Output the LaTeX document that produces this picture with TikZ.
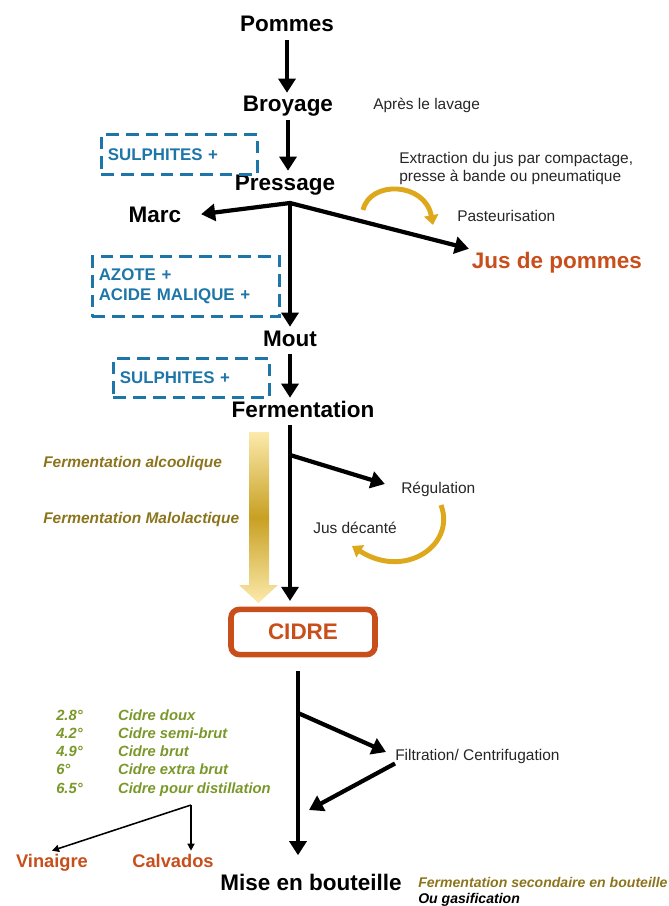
\documentclass[tikz,border=0pt]{standalone}
\usepackage{fontspec}
\setmainfont{Liberation Sans}
\usetikzlibrary{arrows.meta}

\definecolor{bleu}{RGB}{30,118,168}
\definecolor{rouille}{RGB}{200,78,28}
\definecolor{or}{RGB}{222,168,28}
\definecolor{ocre}{RGB}{140,116,28}
\definecolor{vertcidre}{RGB}{122,152,42}
\definecolor{jaunepale}{RGB}{252,234,172}
\definecolor{jaunefonce}{RGB}{200,160,35}

\tikzset{
  etape/.style={font=\bfseries\fontsize{16}{19}\selectfont, text height=11.5pt, text depth=3.4pt, inner sep=2pt, anchor=base},
  note/.style={font=\fontsize{11}{13}\selectfont, text=black!85, inner sep=0pt, anchor=base west, align=left},
  phase/.style={font=\bfseries\itshape\fontsize{11}{13}\selectfont, text=ocre, inner sep=0pt, anchor=base west},
  degres/.style={font=\bfseries\itshape\fontsize{10.5}{13}\selectfont, text=vertcidre, inner sep=0pt, anchor=north west},
  produit/.style={font=\bfseries\fontsize{13}{15}\selectfont, text=rouille, inner sep=2pt, anchor=base},
  ajout/.style={draw=bleu, line width=2pt, dash pattern=on 9pt off 5pt, text=bleu, font=\bfseries\fontsize{12}{14.2}\selectfont, align=left, inner xsep=4.5pt},
  cidre/.style={draw=rouille, line width=4pt, rounded corners=6pt, text=rouille, font=\bfseries\fontsize{16}{19}\selectfont, minimum width=3.6cm, minimum height=1.13cm},
  fleche/.style={line width=3pt, -{Triangle[length=10pt,width=12pt]}},
  courbe/.style={draw=or, line width=3.5pt, -{Triangle[length=7pt,width=10pt]}},
  fin/.style={line width=1.1pt, -{Triangle[length=5pt,width=5pt]}}
}

\begin{document}
\begin{tikzpicture}[x=0.025cm,y=-0.025cm]
  \useasboundingbox (0,0) rectangle (669,906);

  % etapes principales
  \node[etape] (pommes) at (287,32) {Pommes};
  \node[etape] (broyage) at (288,112) {Broyage};
  \node[etape] (pressage) at (285,190) {Pressage};
  \node[etape] (marc) at (155,222) {Marc};
  \node[etape, text=rouille] (jus) at (557,268) {Jus de pommes};
  \node[etape] (mout) at (290,346) {Mout};
  \node[etape] (ferm) at (303,417) {Fermentation};
  \node[cidre] (cidre) at (303,632) {CIDRE};
  \node[etape] (mise) at (311,890) {Mise en bouteille};

  % ajouts
  \node[ajout, minimum width=3.9cm, minimum height=1cm, text width=3.58cm] (sulf1) at (179.5,154.5) {SULPHITES +};
  \node[ajout, minimum width=4.675cm, minimum height=1.5cm, text width=4.36cm] (azote) at (186,286.5) {AZOTE +\\ACIDE MALIQUE +};
  \node[ajout, minimum width=3.9cm, minimum height=0.975cm, text width=3.58cm] (sulf2) at (191.5,378) {SULPHITES +};

  % notes
  \node[note] (apres) at (373,110) {Après le lavage};
  \node[note, anchor=north west] (extraction) at (399,152) {Extraction du jus par compactage,\\presse à bande ou pneumatique};
  \node[note] (pasteur) at (457,221) {Pasteurisation};
  \node[note] (regul) at (401,493) {Régulation};
  \node[note] (decante) at (313,533) {Jus décanté};
  \node[note] (filtration) at (395,760) {Filtration/ Centrifugation};

  \node[phase] (alcool) at (43,467) {Fermentation alcoolique};
  \node[phase] (malo) at (43,523) {Fermentation Malolactique};
  \node[phase, font=\bfseries\itshape\fontsize{10}{12}\selectfont] (secondaire) at (418,887) {Fermentation secondaire en bouteille};
  \node[phase, font=\bfseries\itshape\fontsize{10}{12}\selectfont, text=black] (gasif) at (418,903) {Ou gasification};

  \node[degres] (degres) at (56,707) {\begin{tabular}{@{}p{44pt}@{}l@{}}
    2.8° & Cidre doux\\
    4.2° & Cidre semi-brut\\
    4.9° & Cidre brut\\
    6° & Cidre extra brut\\
    6.5° & Cidre pour distillation
  \end{tabular}};

  \node[produit] (vinaigre) at (52,867) {Vinaigre};
  \node[produit] (calvados) at (173,867) {Calvados};

  % fleche degradee
  \shade[top color=jaunepale, bottom color=jaunepale, middle color=jaunefonce]
    (249,432) -- (269,432) -- (269,585) -- (278,585) -- (258.5,603) -- (239,585) -- (249,585) -- cycle;

  % liaisons
  \coordinate (fourche1) at (290,203);
  \coordinate (fourche2) at (290,455);
  \coordinate (fourche3) at (298,713);
  \coordinate (fourche4) at (191,805);
  \coordinate (retour) at (309,810);

  \draw[fleche] (pommes.south) -- (pommes.south |- broyage.north);
  \draw[fleche] (broyage.south) -- (broyage.south |- pressage.north);
  \draw[line width=3pt, {Triangle[length=10pt,width=12pt]}-{Triangle[length=10pt,width=12pt]}, shorten <=12pt]
    (marc.east) -- (fourche1) -- (jus.north west);
  \draw[fleche] (fourche1) -- (fourche1 |- mout.north);
  \draw[fleche] (mout.south) -- (mout.south |- ferm.north);
  \draw[fleche, shorten >=4pt] (mout.south |- ferm.south) -- (mout.south |- cidre.north);
  \draw[fleche, shorten >=12pt] (fourche2) -- (regul.west);

  \draw[fleche, shorten <=10pt, shorten >=11pt] (fourche3 |- cidre.south) -- (fourche3 |- mise.north);
  \draw[fleche, shorten >=7pt] (fourche3) -- (filtration.west);
  \draw[fleche] (filtration.south west) -- (retour);

  \draw[fin] (fourche4) -- (vinaigre.north);
  \draw[fin] (fourche4) -- (fourche4 |- calvados.north);

  % fleches courbes
  \draw[courbe] (363,210) .. controls (370,180) and (425,182) .. (433,225);
  \draw[courbe] (441,505) .. controls (456,545) and (405,580) .. (352,546);
\end{tikzpicture}
\end{document}
